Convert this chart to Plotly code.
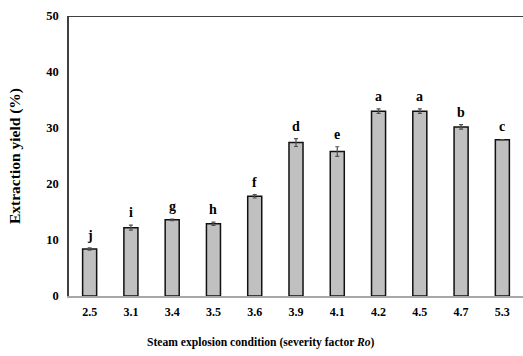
import plotly.graph_objects as go

conditions = ["2.5", "3.1", "3.4", "3.5", "3.6", "3.9", "4.1", "4.2", "4.5", "4.7", "5.3"]
yield_pct = [8.4, 12.2, 13.6, 12.9, 17.8, 27.4, 25.8, 33.0, 33.0, 30.2, 27.9]
yield_err = [0.2, 0.45, 0.15, 0.3, 0.3, 0.7, 0.85, 0.4, 0.4, 0.4, 0.05]
letters = ["j", "i", "g", "h", "f", "d", "e", "a", "a", "b", "c"]
y_ticks = [0, 10, 20, 30, 40, 50]
x_title = "Steam explosion condition (severity factor <i>Ro</i>)"
y_title = "Extraction yield (%)"

FONT = "Liberation Serif, Times New Roman, serif"

fig = go.Figure()
fig.add_trace(go.Bar(
    x=conditions, y=yield_pct,
    width=0.34,
    marker=dict(color="#c0c0c0", line=dict(color="#111111", width=1.5)),
    error_y=dict(type="data", array=yield_err, visible=True,
                 color="#505050", thickness=1.2, width=2),
    showlegend=False,
))

for i, (v, e, t) in enumerate(zip(yield_pct, yield_err, letters)):
    fig.add_annotation(x=i, y=v + e, text=t, showarrow=False,
                       yanchor="bottom", yshift=3,
                       font=dict(family=FONT, size=14, color="#000000", weight="bold"))

# x-axis title (centred on the whole figure, as in the reference)
fig.add_annotation(x=0.424, y=0, xref="paper", yref="paper", text=x_title,
                   showarrow=False, xanchor="center", yanchor="middle", yshift=-46,
                   font=dict(family=FONT, size=11.6, color="#000000", weight="bold"))

fig.add_shape(type="line", xref="paper", yref="y", x0=0, x1=1, y0=50, y1=50,
              line=dict(color="#000000", width=1.5))

fig.update_layout(
    width=523, height=356,
    margin=dict(l=69, r=0, t=16, b=60),
    plot_bgcolor="white", paper_bgcolor="white",
    xaxis=dict(
        type="category",
        showline=True, linecolor="#a8a8a8", linewidth=1.5,
        ticks="", ticklabelstandoff=4,
        tickfont=dict(family=FONT, size=12, color="#000000", weight="bold"),
    ),
    yaxis=dict(
        range=[0, 50], tickvals=y_ticks, showgrid=False, zeroline=False,
        showline=True, linecolor="#404040", linewidth=1.5,
        ticks="", ticklabelstandoff=6,
        tickfont=dict(family=FONT, size=12.5, color="#000000", weight="bold"),
        title=dict(text=y_title,
                   font=dict(family=FONT, size=15.5, color="#000000", weight="bold"),
                   standoff=22),
    ),
)

fig.write_html("out.html")
